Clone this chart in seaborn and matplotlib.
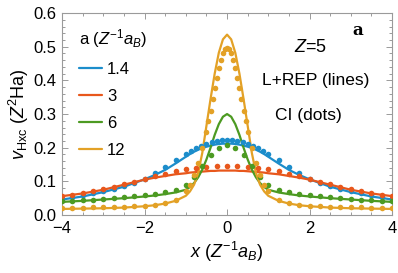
import numpy as np
import pandas as pd
import matplotlib
matplotlib.use("Agg")
import matplotlib.pyplot as plt
import seaborn as sns
from matplotlib.ticker import MultipleLocator, FuncFormatter, FormatStrFormatter

# spacing a (Z^-1 a_B) for each curve
a_labels = ["1.4", "3", "6", "12"]
colors = ["#1c8dcb", "#e8571c", "#4c9a22", "#e3a126"]

# L+REP potentials (lines)
x_line = [-4, -3.5, -3, -2.5, -2, -1.75, -1.5, -1.25, -1, -0.9, -0.8, -0.7, -0.6, -0.5,
          -0.4, -0.3, -0.2, -0.1, 0, 0.1, 0.2, 0.3, 0.4, 0.5, 0.6, 0.7, 0.8, 0.9, 1,
          1.25, 1.5, 1.75, 2, 2.5, 3, 3.5, 4]
v_line_14 = [0.046, 0.055, 0.068, 0.084, 0.106, 0.119, 0.134, 0.153, 0.173, 0.181, 0.188,
             0.194, 0.199, 0.203, 0.206, 0.209, 0.211, 0.212, 0.212, 0.212, 0.211, 0.209,
             0.206, 0.203, 0.199, 0.194, 0.188, 0.181, 0.173, 0.153, 0.134, 0.119, 0.106,
             0.084, 0.068, 0.055, 0.046]
v_line_3 = [0.056, 0.064, 0.075, 0.090, 0.105, 0.111, 0.116, 0.121, 0.124, 0.126, 0.127,
            0.128, 0.129, 0.130, 0.131, 0.131, 0.132, 0.132, 0.132, 0.132, 0.132, 0.131,
            0.131, 0.130, 0.129, 0.128, 0.127, 0.126, 0.124, 0.121, 0.116, 0.111, 0.105,
            0.090, 0.075, 0.064, 0.056]
v_line_6 = [0.039, 0.042, 0.046, 0.050, 0.055, 0.058, 0.062, 0.067, 0.075, 0.083, 0.095,
            0.112, 0.135, 0.165, 0.200, 0.238, 0.270, 0.292, 0.300, 0.292, 0.270, 0.238,
            0.200, 0.165, 0.135, 0.112, 0.095, 0.083, 0.075, 0.067, 0.062, 0.058, 0.055,
            0.050, 0.046, 0.042, 0.039]
v_line_12 = [0.018, 0.019, 0.020, 0.022, 0.026, 0.029, 0.034, 0.042, 0.057, 0.070, 0.090,
             0.125, 0.185, 0.265, 0.345, 0.420, 0.482, 0.522, 0.536, 0.522, 0.482, 0.420,
             0.345, 0.265, 0.185, 0.125, 0.090, 0.070, 0.057, 0.042, 0.034, 0.029, 0.026,
             0.022, 0.020, 0.019, 0.018]

# CI potentials (dots)
x_dot_14 = [-4, -3.75, -3.5, -3.25, -3, -2.75, -2.5, -2.25, -2, -1.75, -1.5, -1.25, -1,
            -0.875, -0.75, -0.625, -0.5, -0.375, -0.25, -0.125, 0, 0.125, 0.25, 0.375, 0.5,
            0.625, 0.75, 0.875, 1, 1.25, 1.5, 1.75, 2, 2.25, 2.5, 2.75, 3, 3.25, 3.5, 3.75, 4]
v_dot_14 = [0.048, 0.053, 0.058, 0.064, 0.070, 0.078, 0.086, 0.096, 0.108, 0.124, 0.142,
            0.162, 0.181, 0.190, 0.198, 0.205, 0.211, 0.216, 0.220, 0.223, 0.224, 0.223,
            0.220, 0.216, 0.211, 0.205, 0.198, 0.190, 0.181, 0.162, 0.142, 0.124, 0.108,
            0.096, 0.086, 0.078, 0.070, 0.064, 0.058, 0.053, 0.048]
x_dot_3 = [-4, -3.75, -3.5, -3.25, -3, -2.75, -2.5, -2.25, -2, -1.75, -1.5, -1.25, -1,
           -0.75, -0.5, -0.25, 0, 0.25, 0.5, 0.75, 1, 1.25, 1.5, 1.75, 2, 2.25, 2.5, 2.75,
           3, 3.25, 3.5, 3.75, 4]
v_dot_3 = [0.056, 0.060, 0.065, 0.070, 0.076, 0.083, 0.091, 0.099, 0.107, 0.115, 0.123,
           0.130, 0.136, 0.140, 0.143, 0.145, 0.146, 0.145, 0.143, 0.140, 0.136, 0.130,
           0.123, 0.115, 0.107, 0.099, 0.091, 0.083, 0.076, 0.070, 0.065, 0.060, 0.056]
x_dot_6 = [-4, -3.75, -3.5, -3.25, -3, -2.75, -2.5, -2.25, -2, -1.75, -1.5, -1.25, -1,
           -0.8, -0.6, -0.4, -0.2, 0, 0.2, 0.4, 0.6, 0.8, 1, 1.25, 1.5, 1.75, 2, 2.25,
           2.5, 2.75, 3, 3.25, 3.5, 3.75, 4]
v_dot_6 = [0.042, 0.043, 0.044, 0.046, 0.048, 0.050, 0.052, 0.055, 0.058, 0.063, 0.068,
           0.075, 0.088, 0.112, 0.145, 0.178, 0.198, 0.209, 0.198, 0.178, 0.145, 0.112,
           0.088, 0.075, 0.068, 0.063, 0.058, 0.055, 0.052, 0.050, 0.048, 0.046, 0.044,
           0.043, 0.042]
x_dot_12 = [-4, -3.75, -3.5, -3.25, -3, -2.75, -2.5, -2.25, -2, -1.75, -1.5, -1.25, -1,
            -0.9, -0.8, -0.7, -0.6, -0.5, -0.45, -0.4, -0.35, -0.3, -0.25, -0.2, -0.15,
            -0.1, -0.05, 0, 0.05, 0.1, 0.15, 0.2, 0.25, 0.3, 0.35, 0.4, 0.45, 0.5, 0.6,
            0.7, 0.8, 0.9, 1, 1.25, 1.5, 1.75, 2, 2.25, 2.5, 2.75, 3, 3.25, 3.5, 3.75, 4]
v_dot_12 = [0.022, 0.022, 0.022, 0.023, 0.023, 0.024, 0.025, 0.026, 0.028, 0.031, 0.036,
            0.046, 0.070, 0.090, 0.118, 0.155, 0.200, 0.248, 0.278, 0.310, 0.345, 0.376,
            0.408, 0.438, 0.462, 0.482, 0.492, 0.497, 0.492, 0.482, 0.462, 0.438, 0.408,
            0.376, 0.345, 0.310, 0.278, 0.248, 0.200, 0.155, 0.118, 0.090, 0.070, 0.046,
            0.036, 0.031, 0.028, 0.026, 0.025, 0.024, 0.023, 0.023, 0.022, 0.022, 0.022]

line_vals = [v_line_14, v_line_3, v_line_6, v_line_12]
dot_xs = [x_dot_14, x_dot_3, x_dot_6, x_dot_12]
dot_vals = [v_dot_14, v_dot_3, v_dot_6, v_dot_12]

sns.set_style("ticks")
plt.rcParams["font.family"] = ["Liberation Sans", "DejaVu Sans"]
plt.rcParams["mathtext.fontset"] = "custom"
plt.rcParams["mathtext.rm"] = "Liberation Sans"
plt.rcParams["mathtext.it"] = "Liberation Sans:italic"
plt.rcParams["mathtext.bf"] = "Liberation Sans:bold"
plt.rcParams["text.color"] = "black"
plt.rcParams["axes.labelcolor"] = "black"

fig = plt.figure(figsize=(3.98, 2.73), dpi=100)
ax = fig.add_axes([0.156, 0.2125, 0.829, 0.7395])

handles = []
for lab, col, v_l, x_d, v_d in zip(a_labels, colors, line_vals, dot_xs, dot_vals):
    df_l = pd.DataFrame({"x": x_line, "v": v_l})
    df_d = pd.DataFrame({"x": x_d, "v": v_d})
    sns.scatterplot(data=df_d, x="x", y="v", color=col, s=16, linewidth=0, ax=ax,
                    legend=False, zorder=3)
    sns.lineplot(data=df_l, x="x", y="v", color=col, lw=1.6, ax=ax, legend=False,
                 zorder=2, estimator=None, sort=False)
    handles.append(ax.lines[-1])

ax.set_xlim(-4, 4)
ax.set_ylim(0, 0.6)
ax.xaxis.set_major_locator(MultipleLocator(2))
ax.xaxis.set_minor_locator(MultipleLocator(0.5))
ax.yaxis.set_major_locator(MultipleLocator(0.1))
ax.yaxis.set_minor_locator(MultipleLocator(0.02))
ax.xaxis.set_major_formatter(FuncFormatter(lambda v, p: f"{v:.0f}".replace("-", "\u2212")))
ax.yaxis.set_major_formatter(FormatStrFormatter("%.1f"))
ax.tick_params(which="both", direction="in", top=True, right=True, color="#9a9a9a",
               labelsize=12, labelcolor="black", width=0.7, pad=4)
ax.tick_params(which="major", length=4.5)
ax.tick_params(which="minor", length=2.5)
for sp in ax.spines.values():
    sp.set_color("#9a9a9a")
    sp.set_linewidth(0.8)

ax.set_xlabel(r"$x$ ($Z^{-1}a_B$)", fontsize=13, labelpad=3)
ax.set_ylabel(r"$v_{\mathrm{Hxc}}$ ($Z^2$Ha)", fontsize=13, labelpad=2)

leg = ax.legend(handles, a_labels, title=r"a ($Z^{-1}a_B$)", loc="upper left",
                bbox_to_anchor=(0.03, 0.965), frameon=False, fontsize=12,
                title_fontsize=12, handlelength=1.4, handletextpad=0.3,
                labelspacing=0.72, borderaxespad=0)
leg._legend_box.align = "left"

ax.text(0.752, 0.832, r"$Z$=5", transform=ax.transAxes, ha="center", va="center",
        fontsize=13)
ax.text(0.77, 0.668, "L+REP (lines)", transform=ax.transAxes, ha="center", va="center",
        fontsize=12.5)
ax.text(0.745, 0.495, "CI (dots)", transform=ax.transAxes, ha="center", va="center",
        fontsize=12.5)
ax.text(0.897, 0.916, "a", transform=ax.transAxes, ha="center", va="center", fontsize=12,
        family="DejaVu Serif", fontweight="bold")

fig.savefig("out.png", dpi=100)
